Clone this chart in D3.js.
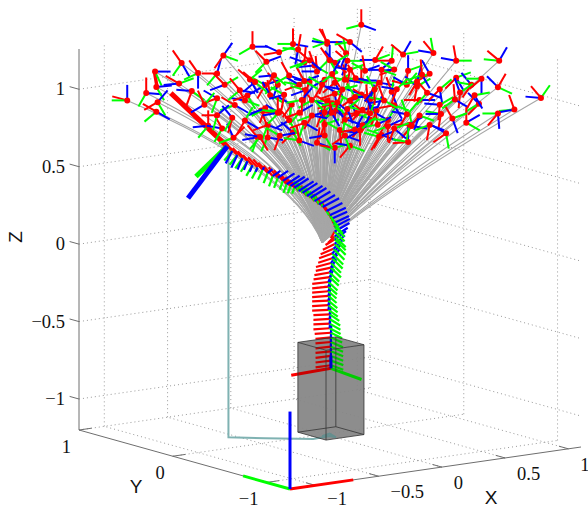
<!DOCTYPE html>
<html>
<head>
<meta charset="utf-8">
<script src="https://cdn.jsdelivr.net/npm/d3@7"></script>
<style>
  html, body { margin: 0; padding: 0; background: #fff; }
  svg { display: block; }
  .tick { font-family: "Liberation Serif", serif; font-size: 18.5px; fill: #111; }
  .axisName { font-family: "Liberation Sans", sans-serif; font-size: 19px; fill: #111; }
</style>
</head>
<body>
<div id="chart"></div>
<script>
// axis limits and ticks
var xLimits = [-1.2, 1.1];
var yLimits = [-1.25, 1];
var zLimits = [-1.2, 1.26];
var xTicks = [-1, -0.5, 0, 0.5, 1];
var yTicks = [-1, 0, 1];
var zTicks = [-1, -0.5, 0, 0.5, 1];

// obstacle box: [min, max] per axis
var boxX = [-0.1, 0.2];
var boxY = [-0.15, 0.15];
var boxZ = [-1.2, -0.62];

// where the grey rays meet
var rayRoot = [-0.02, 0.04];

// floor trace, [x, z] seen at y = 0
var tracePoints = [[-0.76, 0.72], [-0.76, -1.13], [-0.47, -1.17], [-0.09, -1.22], [0.04, -1.215],
  [0.09, -1.23], [0.04, -1.2], [-0.02, -1.21]];

// depth cannot be read off a single view, so every frame is read at y = 0
// backbone frames, base to tip: x, z, red deg, green deg, blue deg, red len, green len, blue len
var spineFrames = [
  [0.05, -0.76, 188, 340, 90, 0.10, 0.085, 0.05], [0.05, -0.73, 187, 340, 90, 0.10, 0.085, 0.05],
  [0.05, -0.70, 187, 339, 90, 0.10, 0.085, 0.05], [0.05, -0.67, 186, 338, 90, 0.10, 0.085, 0.05],
  [0.05, -0.64, 186, 337, 90, 0.10, 0.085, 0.05], [0.05, -0.61, 185, 336, 89, 0.10, 0.085, 0.05],
  [0.05, -0.58, 185, 335, 88, 0.10, 0.08, 0.05], [0.05, -0.55, 184, 334, 87, 0.105, 0.08, 0.05],
  [0.04, -0.52, 184, 332, 86, 0.105, 0.08, 0.05], [0.04, -0.49, 183, 330, 85, 0.105, 0.08, 0.05],
  [0.04, -0.46, 183, 328, 84, 0.105, 0.08, 0.05], [0.04, -0.43, 183, 326, 82, 0.105, 0.075, 0.05],
  [0.03, -0.40, 183, 324, 80, 0.105, 0.075, 0.05], [0.03, -0.37, 183, 322, 78, 0.105, 0.075, 0.05],
  [0.03, -0.34, 183, 320, 76, 0.105, 0.075, 0.05], [0.03, -0.31, 184, 319, 74, 0.105, 0.07, 0.05],
  [0.03, -0.28, 185, 318, 72, 0.105, 0.07, 0.05], [0.03, -0.25, 186, 318, 70, 0.105, 0.075, 0.05],
  [0.03, -0.22, 187, 317, 67, 0.105, 0.08, 0.055], [0.04, -0.19, 188, 317, 64, 0.105, 0.08, 0.06],
  [0.04, -0.16, 190, 316, 61, 0.10, 0.085, 0.06], [0.05, -0.13, 192, 316, 58, 0.10, 0.09, 0.065],
  [0.05, -0.10, 195, 316, 54, 0.10, 0.09, 0.07], [0.06, -0.07, 198, 315, 50, 0.095, 0.095, 0.075],
  [0.06, -0.04, 200, 315, 46, 0.09, 0.10, 0.08], [0.07, -0.01, 203, 315, 43, 0.09, 0.10, 0.08],
  [0.08, 0.02, 206, 315, 40, 0.085, 0.10, 0.085], [0.08, 0.05, 212, 315, 36, 0.07, 0.10, 0.09],
  [0.08, 0.07, 225, 315, 33, 0.06, 0.10, 0.10], [0.08, 0.10, 240, 315, 30, 0.05, 0.09, 0.11],
  [0.08, 0.13, 90, 315, 28, 0.04, 0.09, 0.11], [0.07, 0.155, 110, 312, 25, 0.06, 0.09, 0.11],
  [0.055, 0.185, 118, 310, 24, 0.08, 0.07, 0.11], [0.04, 0.21, 122, 305, 25, 0.09, 0.05, 0.115],
  [0.015, 0.24, 125, 300, 27, 0.10, 0.03, 0.115], [-0.015, 0.27, 125, 110, 28, 0.10, 0.04, 0.12],
  [-0.045, 0.29, 126, 115, 30, 0.10, 0.07, 0.12], [-0.08, 0.315, 127, 115, 31, 0.10, 0.07, 0.12],
  [-0.11, 0.34, 128, 115, 32, 0.10, 0.07, 0.12], [-0.14, 0.355, 128, 115, 33, 0.10, 0.07, 0.12],
  [-0.175, 0.38, 128, 115, 33, 0.09, 0.07, 0.115], [-0.205, 0.395, 129, 115, 33, 0.09, 0.07, 0.115],
  [-0.24, 0.42, 129, 250, 33, 0.09, 0.04, 0.11], [-0.27, 0.435, 130, 250, 33, 0.09, 0.05, 0.11],
  [-0.30, 0.45, 130, 250, 33, 0.09, 0.06, 0.10], [-0.33, 0.475, 130, 250, 33, 0.09, 0.06, 0.09],
  [-0.37, 0.50, 131, 250, 34, 0.09, 0.07, 0.08], [-0.41, 0.515, 131, 250, 35, 0.09, 0.07, 0.06],
  [-0.45, 0.54, 132, 248, 40, 0.09, 0.07, 0.04], [-0.49, 0.565, 132, 245, 60, 0.09, 0.07, 0.02],
  [-0.53, 0.585, 133, 243, 245, 0.09, 0.08, 0.03], [-0.57, 0.605, 133, 240, 247, 0.09, 0.08, 0.045],
  [-0.61, 0.635, 134, 238, 248, 0.09, 0.08, 0.06], [-0.65, 0.66, 134, 235, 247, 0.09, 0.08, 0.08],
  [-0.69, 0.685, 135, 232, 245, 0.09, 0.08, 0.09], [-0.73, 0.715, 135, 230, 242, 0.09, 0.08, 0.09]
];

// the three large frames: base of backbone, end of backbone
var spineBase = [0.05, -0.78, 190, 340, 90, 0.26, 0.21, 0.08];
var spineEnd = [-0.77, 0.75, 136.6, 224, 233, 0.5, 0.28, 0.42];
var worldAxisLength = 0.5;

// sampled end frames: x, z, red deg, green deg, blue deg
var tipFrames = [
  [-1.56, 1.14, 165, 180, 90], [-1.41, 1.17, 90, 240, 355], [-1.34, 1.30, 280, 295, 0], [-1.33, 1.20, 100, 300, 5],
  [-1.15, 1.20, 150, 20, 185], [-1.13, 1.33, 125, 235, 300], [-1.00, 1.25, 125, 205, 270], [-0.85, 1.23, 180, 230, 75],
  [-0.80, 1.34, 235, 340, 55], [-1.05, 1.14, 250, 325, 175], [-1.32, 1.10, 210, 300, 50], [-1.33, 1.04, 150, 220, 330],
  [-0.92, 0.90, 90, 230, 185], [-0.81, 0.87, 120, 240, 170], [-0.72, 0.80, 45, 200, 115], [-0.53, 0.78, 130, 250, 190],
  [-0.45, 0.77, 90, 245, 350], [-0.25, 0.78, 225, 300, 140], [-0.45, 0.85, 200, 250, 340], [-0.36, 0.92, 180, 225, 150],
  [-0.26, 0.96, 235, 260, 150], [-0.57, 1.37, 90, 210, 0], [-0.46, 1.26, 135, 225, 20], [-0.36, 1.31, 190, 20, 155],
  [-0.25, 1.35, 90, 180, 350], [-0.21, 1.31, 80, 175, 260], [-0.06, 1.15, 95, 45, 180], [-0.12, 1.09, 250, 190, 170],
  [0.02, 1.32, 110, 160, 170], [-0.79, 1.15, 135, 30, 200], [-0.85, 1.07, 200, 250, 150], [-0.71, 1.01, 150, 200, 330],
  [-0.63, 1.03, 120, 340, 170], [-0.59, 1.16, 140, 40, 300], [-0.47, 1.11, 240, 150, 20], [-0.37, 1.10, 130, 215, 250],
  [-0.43, 1.04, 100, 330, 120], [-0.50, 0.95, 290, 0, 200], [-0.63, 0.90, 240, 60, 330], [-0.73, 0.93, 255, 240, 130],
  [-0.85, 0.96, 180, 255, 40], [-0.20, 1.08, 200, 170, 150], [-0.16, 1.22, 85, 200, 160], [-0.15, 1.04, 265, 165, 200],
  [0, 1.09, 250, 30, 210], [0.08, 1.06, 220, 30, 300], [0.02, 0.95, 250, 180, 330], [0.09, 0.88, 215, 60, 320],
  [-0.02, 0.88, 250, 35, 0], [0.12, 0.75, 275, 150, 350], [-0.06, 0.69, 80, 330, 340], [0.08, 0.64, 170, 15, 270],
  [0.25, 0.84, 180, 340, 115], [0.34, 0.92, 95, 50, 300], [0.41, 0.84, 250, 200, 70], [0.50, 0.77, 240, 60, 150],
  [0.45, 0.68, 240, 160, 340], [0.53, 1.15, 180, 85, 220], [0.62, 1.18, 140, 10, 60], [0.55, 1.09, 200, 150, 185],
  [0.43, 1.02, 230, 180, 350], [0.18, 1.19, 140, 0, 250], [0.02, 1.33, 120, 200, 0], [0.17, 1.24, 130, 100, 250],
  [0.29, 0.96, 200, 340, 160], [0.29, 1.41, 90, 195, 340], [0.20, 1.31, 150, 190, 320], [0.86, 1.16, 130, 100, 170],
  [1.04, 1.09, 100, 0, 170], [0.29, 1.05, 90, 170, 0], [0.45, 1.10, 270, 340, 180], [0.66, 1.07, 260, 20, 90],
  [0.83, 1.03, 210, 200, 120], [0.73, 0.96, 260, 30, 140], [1.04, 0.98, 225, 20, 300], [1.16, 0.92, 235, 170, 130],
  [1.24, 0.95, 220, 180, 270], [1.38, 1.05, 140, 175, 60], [1.37, 0.88, 60, 335, 135], [1.71, 0.77, 130, 55, 175],
  [1.07, 0.88, 265, 35, 110], [1.22, 0.79, 225, 210, 135], [1.50, 0.72, 110, 185, 190], [1.37, 0.71, 230, 180, 275],
  [1.12, 0.68, 90, 330, 30], [1.01, 0.72, 120, 20, 290], [0.92, 0.76, 260, 170, 180], [0.96, 0.63, 215, 280, 150],
  [0.69, 0.71, 230, 100, 350], [0.66, 0.61, 185, 170, 90], [0.50, 0.73, 270, 200, 25], [0.65, 0.79, 240, 110, 170],
  [0.42, 0.75, 100, 190, 30], [0.30, 0.86, 225, 170, 10], [0.36, 0.92, 260, 160, 75], [0.53, 0.95, 110, 80, 290],
  [0.16, 1.07, 95, 170, 350], [0.06, 0.93, 200, 320, 250], [0.65, 0.98, 165, 50, 150], [-0.10, 0.97, 130, 210, 340],
  [-0.20, 0.90, 200, 230, 30], [0.16, 0.81, 30, 260, 120], [0.20, 0.93, 320, 150, 20], [-0.08, 1.19, 110, 330, 185],
  [0.08, 1.19, 320, 30, 130], [0.24, 0.74, 190, 150, 60], [0, 0.80, 250, 20, 100], [0.36, 0.79, 235, 0, 210],
  [0.55, 0.86, 190, 340, 300], [0.75, 0.87, 180, 230, 0], [0.91, 0.92, 225, 40, 280], [0.20, 1.13, 260, 20, 170],
  [-0.28, 1.15, 120, 210, 340], [-0.61, 1.06, 200, 300, 30], [-0.32, 1.03, 260, 150, 195], [0.04, 1.21, 125, 300, 90],
  [-0.55, 1.14, 140, 320, 220], [-0.47, 0.96, 250, 210, 200], [-0.37, 0.92, 90, 170, 190], [-0.51, 0.78, 300, 230, 170],
  [-0.16, 1.10, 120, 330, 20], [0.06, 1.12, 300, 220, 60], [-0.02, 1.06, 240, 150, 330], [0.08, 0.99, 200, 30, 280],
  [0.14, 1.01, 250, 15, 170], [0.04, 0.93, 150, 330, 290], [0.10, 0.93, 260, 190, 320], [0, 0.88, 265, 130, 195],
  [0.055, 0.87, 100, 220, 300], [0.24, 0.95, 215, 120, 0], [0.33, 0.94, 150, 350, 290], [0.30, 0.76, 230, 30, 160],
  [0.36, 0.83, 170, 70, 250], [0.43, 0.67, 240, 165, 20], [0.73, 0.99, 240, 190, 75], [0.77, 1.03, 95, 200, 300],
  [0.81, 0.91, 130, 230, 340], [0.57, 0.96, 250, 45, 170], [0.67, 0.72, 180, 260, 30], [0.40, 1.17, 60, 20, 180],
  [0.32, 1.11, 100, 150, 20], [0.18, 0.88, 250, 40, 290], [0.245, 1.07, 120, 340, 350], [-0.10, 0.87, 240, 200, 350],
  [-0.18, 0.98, 270, 190, 50], [-0.12, 1.23, 140, 210, 320], [-0.28, 0.86, 130, 300, 210], [-0.40, 1.165, 235, 320, 185],
  [-0.16, 0.83, 200, 250, 330], [0.20, 0.64, 230, 340, 170], [0.28, 0.73, 270, 40, 210], [0.55, 0.71, 250, 20, 320],
  [0.75, 0.77, 230, 340, 250], [0.83, 0.70, 260, 200, 340], [0.47, 0.90, 110, 330, 190], [0.395, 0.98, 270, 120, 230],
  [0.16, 0.71, 215, 290, 340], [0, 0.73, 90, 300, 190], [-0.20, 0.72, 100, 170, 340], [-0.355, 0.77, 250, 150, 10],
  [-0.67, 1.10, 130, 220, 350], [-0.95, 1.04, 115, 50, 210], [0.91, 0.82, 265, 30, 175], [1.03, 0.84, 95, 215, 330],
  [1.185, 0.85, 240, 10, 300]
];
var tipAxisLength = 0.1;

var width = 588;
var height = 506;
var cornerH = 290;
var cornerV = 489;

var svg = d3
  .select("#chart")
  .append("svg")
  .attr("width", width)
  .attr("height", height);

// fixed view: each data axis adds its own horizontal and vertical shift on screen
var xToH = d3.scaleLinear().domain(xLimits).range([0, 291]);
var xToV = d3.scaleLinear().domain(xLimits).range([0, -42]);
var yToH = d3.scaleLinear().domain(yLimits).range([0, -211]);
var yToV = d3.scaleLinear().domain(yLimits).range([0, -59]);
var zToV = d3.scaleLinear().domain(zLimits).range([0, -381]);
var lenToPx = d3.scaleLinear().domain([0, 1]).range([0, 155]);

function project(x, y, z) {
  return [cornerH + xToH(x) + yToH(y), cornerV + xToV(x) + yToV(y) + zToV(z)];
}

var line = d3.line();

function drawSeg(parent, a, b, color, w, dash) {
  parent
    .append("path")
    .attr("d", line([project(a[0], a[1], a[2]), project(b[0], b[1], b[2])]))
    .attr("fill", "none")
    .attr("stroke", color)
    .attr("stroke-width", w)
    .attr("stroke-dasharray", dash || null);
}

// grid on the floor and the two back walls
var gridG = svg.append("g");
var gridColor = "#999999";
var gridDash = "1 3";
xTicks.forEach(function(t) {
  drawSeg(gridG, [t, yLimits[0], zLimits[0]], [t, yLimits[1], zLimits[0]], gridColor, 1, gridDash);
  drawSeg(gridG, [t, yLimits[1], zLimits[0]], [t, yLimits[1], zLimits[1]], gridColor, 1, gridDash);
});
yTicks.forEach(function(t) {
  drawSeg(gridG, [xLimits[0], t, zLimits[0]], [xLimits[1], t, zLimits[0]], gridColor, 1, gridDash);
  drawSeg(gridG, [xLimits[1], t, zLimits[0]], [xLimits[1], t, zLimits[1]], gridColor, 1, gridDash);
});
zTicks.forEach(function(t) {
  drawSeg(gridG, [xLimits[0], yLimits[1], t], [xLimits[1], yLimits[1], t], gridColor, 1, gridDash);
  drawSeg(gridG, [xLimits[1], yLimits[1], t], [xLimits[1], yLimits[0], t], gridColor, 1, gridDash);
});

// axes lines and tick marks
var axisG = svg.append("g");
var axisColor = "#6e6e6e";
drawSeg(axisG, [xLimits[0], yLimits[0], zLimits[0]], [xLimits[1], yLimits[0], zLimits[0]], axisColor, 1);
drawSeg(axisG, [xLimits[0], yLimits[0], zLimits[0]], [xLimits[0], yLimits[1], zLimits[0]], axisColor, 1);
drawSeg(axisG, [xLimits[0], yLimits[1], zLimits[0]], [xLimits[0], yLimits[1], zLimits[1]], axisColor, 1);
xTicks.forEach(function(t) {
  drawSeg(axisG, [t, yLimits[0], zLimits[0]], [t, yLimits[0] + 0.1, zLimits[0]], axisColor, 1);
});
yTicks.forEach(function(t) {
  drawSeg(axisG, [xLimits[0], t, zLimits[0]], [xLimits[0] + 0.1, t, zLimits[0]], axisColor, 1);
});
zTicks.forEach(function(t) {
  drawSeg(axisG, [xLimits[0], yLimits[1], t], [xLimits[0], yLimits[1] + 0.1, t], axisColor, 1);
});

function tickText(t) {
  return (t < 0 ? "\u2212" : "") + Math.abs(t);
}

xTicks.forEach(function(t) {
  var p = project(t, yLimits[0], zLimits[0]);
  svg.append("text").attr("class", "tick").attr("x", p[0] + 12).attr("y", Math.min(p[1] + 22, 505)).text(tickText(t));
});
yTicks.forEach(function(t) {
  var p = project(xLimits[0], t, zLimits[0]);
  svg.append("text").attr("class", "tick").attr("text-anchor", "end").attr("x", p[0] - 8).attr("y", Math.min(p[1] + 23, 505)).text(tickText(t));
});
zTicks.forEach(function(t) {
  var p = project(xLimits[0], yLimits[1], t);
  svg.append("text").attr("class", "tick").attr("text-anchor", "end").attr("x", 65).attr("y", p[1] + 6).text(tickText(t));
});

svg.append("text").attr("class", "axisName").attr("x", 491).attr("y", 504).attr("text-anchor", "middle").text("X");
svg.append("text").attr("class", "axisName").attr("x", 136).attr("y", 493).attr("text-anchor", "middle").text("Y");
svg
  .append("text")
  .attr("class", "axisName")
  .attr("text-anchor", "middle")
  .attr("transform", "translate(22,237)rotate(-90)")
  .text("Z");

// box body, lighter pass under the frames
function boxFaces() {
  var x0 = boxX[0], x1 = boxX[1], y0 = boxY[0], y1 = boxY[1], z0 = boxZ[0], z1 = boxZ[1];
  return [
    [[x0, y1, z1], [x1, y1, z1], [x1, y0, z1], [x0, y0, z1]],
    [[x0, y0, z0], [x1, y0, z0], [x1, y0, z1], [x0, y0, z1]],
    [[x0, y0, z0], [x0, y1, z0], [x0, y1, z1], [x0, y0, z1]]
  ];
}

function polyPath(face) {
  return line(face.map(function(c) { return project(c[0], c[1], c[2]); })) + "Z";
}

svg
  .append("g")
  .selectAll("path")
  .data(boxFaces())
  .enter()
  .append("path")
  .attr("d", polyPath)
  .attr("fill", "#aaaaaa")
  .attr("fill-opacity", 0.92);

// grey rays from the root to every end frame
// rays to the left bend under the backbone, rays to the right run almost straight
var rayG = svg.append("g");
var rootPx = project(rayRoot[0], 0, rayRoot[1]);
tipFrames.forEach(function(d) {
  var p = project(d[0], 0, d[1]);
  var toLeft = p[0] < rootPx[0];
  var ray = d3.path();
  ray.moveTo(rootPx[0], rootPx[1]);
  ray.quadraticCurveTo(
    rootPx[0] + (toLeft ? 0.15 : 0.36) * (p[0] - rootPx[0]),
    rootPx[1] + (toLeft ? 0.5 : 0.44) * (p[1] - rootPx[1]),
    p[0],
    p[1]
  );
  rayG
    .append("path")
    .attr("d", ray.toString())
    .attr("fill", "none")
    .attr("stroke", "#a6a6a6")
    .attr("stroke-width", 1.1);
});

// floor trace of the backbone end
svg
  .append("path")
  .attr("d", line(tracePoints.map(function(d) { return project(d[0], 0, d[1]); })))
  .attr("fill", "none")
  .attr("stroke", "#7fb2b2")
  .attr("stroke-width", 2);

function drawFrame(parent, d, rLen, gLen, bLen, w) {
  var p = project(d[0], 0, d[1]);
  var colors = ["#ff0000", "#00ff00", "#0000ff"];
  var lens = [rLen, gLen, bLen];
  colors.forEach(function(c, i) {
    var a = d[2 + i] * Math.PI / 180;
    var l = lenToPx(lens[i]);
    parent
      .append("path")
      .attr("d", line([p, [p[0] + l * Math.cos(a), p[1] - l * Math.sin(a)]]))
      .attr("stroke", c)
      .attr("stroke-width", w)
      .attr("fill", "none");
  });
}

// backbone frames base to tip
var spineG = svg.append("g");
spineFrames.forEach(function(d) {
  drawFrame(spineG, d, d[5], d[6], d[7], 2.2);
});
drawFrame(spineG, spineBase, spineBase[5], spineBase[6], spineBase[7], 3);

// box body, darker pass above the frames, then its edges
svg
  .append("g")
  .selectAll("path")
  .data(boxFaces())
  .enter()
  .append("path")
  .attr("d", polyPath)
  .attr("fill", "#000000")
  .attr("fill-opacity", 0.2);

var edgeG = svg.append("g");
[boxX[0], boxX[1]].forEach(function(x) {
  [boxY[0], boxY[1]].forEach(function(y) {
    drawSeg(edgeG, [x, y, boxZ[0]], [x, y, boxZ[1]], "#333", 0.8);
  });
});
[boxZ[0], boxZ[1]].forEach(function(z) {
  drawSeg(edgeG, [boxX[0], boxY[0], z], [boxX[1], boxY[0], z], "#333", 0.8);
  drawSeg(edgeG, [boxX[0], boxY[1], z], [boxX[1], boxY[1], z], "#333", 0.8);
  drawSeg(edgeG, [boxX[0], boxY[0], z], [boxX[0], boxY[1], z], "#333", 0.8);
  drawSeg(edgeG, [boxX[1], boxY[0], z], [boxX[1], boxY[1], z], "#333", 0.8);
});

// end frame of the backbone on top
var endG = svg.append("g");
drawFrame(endG, spineEnd, spineEnd[5], spineEnd[6], spineEnd[7], 5);

// end frames with their dot
var tipG = svg.append("g");
tipFrames.forEach(function(d) {
  drawFrame(tipG, d, tipAxisLength, tipAxisLength, tipAxisLength, 2);
  var p = project(d[0], 0, d[1]);
  tipG.append("circle").attr("cx", p[0]).attr("cy", p[1]).attr("r", 3).attr("fill", "#ff0000");
});

// world axes at the front corner
var worldG = svg.append("g");
var o = [xLimits[0], yLimits[0], zLimits[0]];
drawSeg(worldG, o, [o[0] + worldAxisLength, o[1], o[2]], "#ff0000", 3);
drawSeg(worldG, o, [o[0], o[1] + worldAxisLength, o[2]], "#00ff00", 3);
drawSeg(worldG, o, [o[0], o[1], o[2] + worldAxisLength], "#0000ff", 3);
</script>
</body>
</html>
